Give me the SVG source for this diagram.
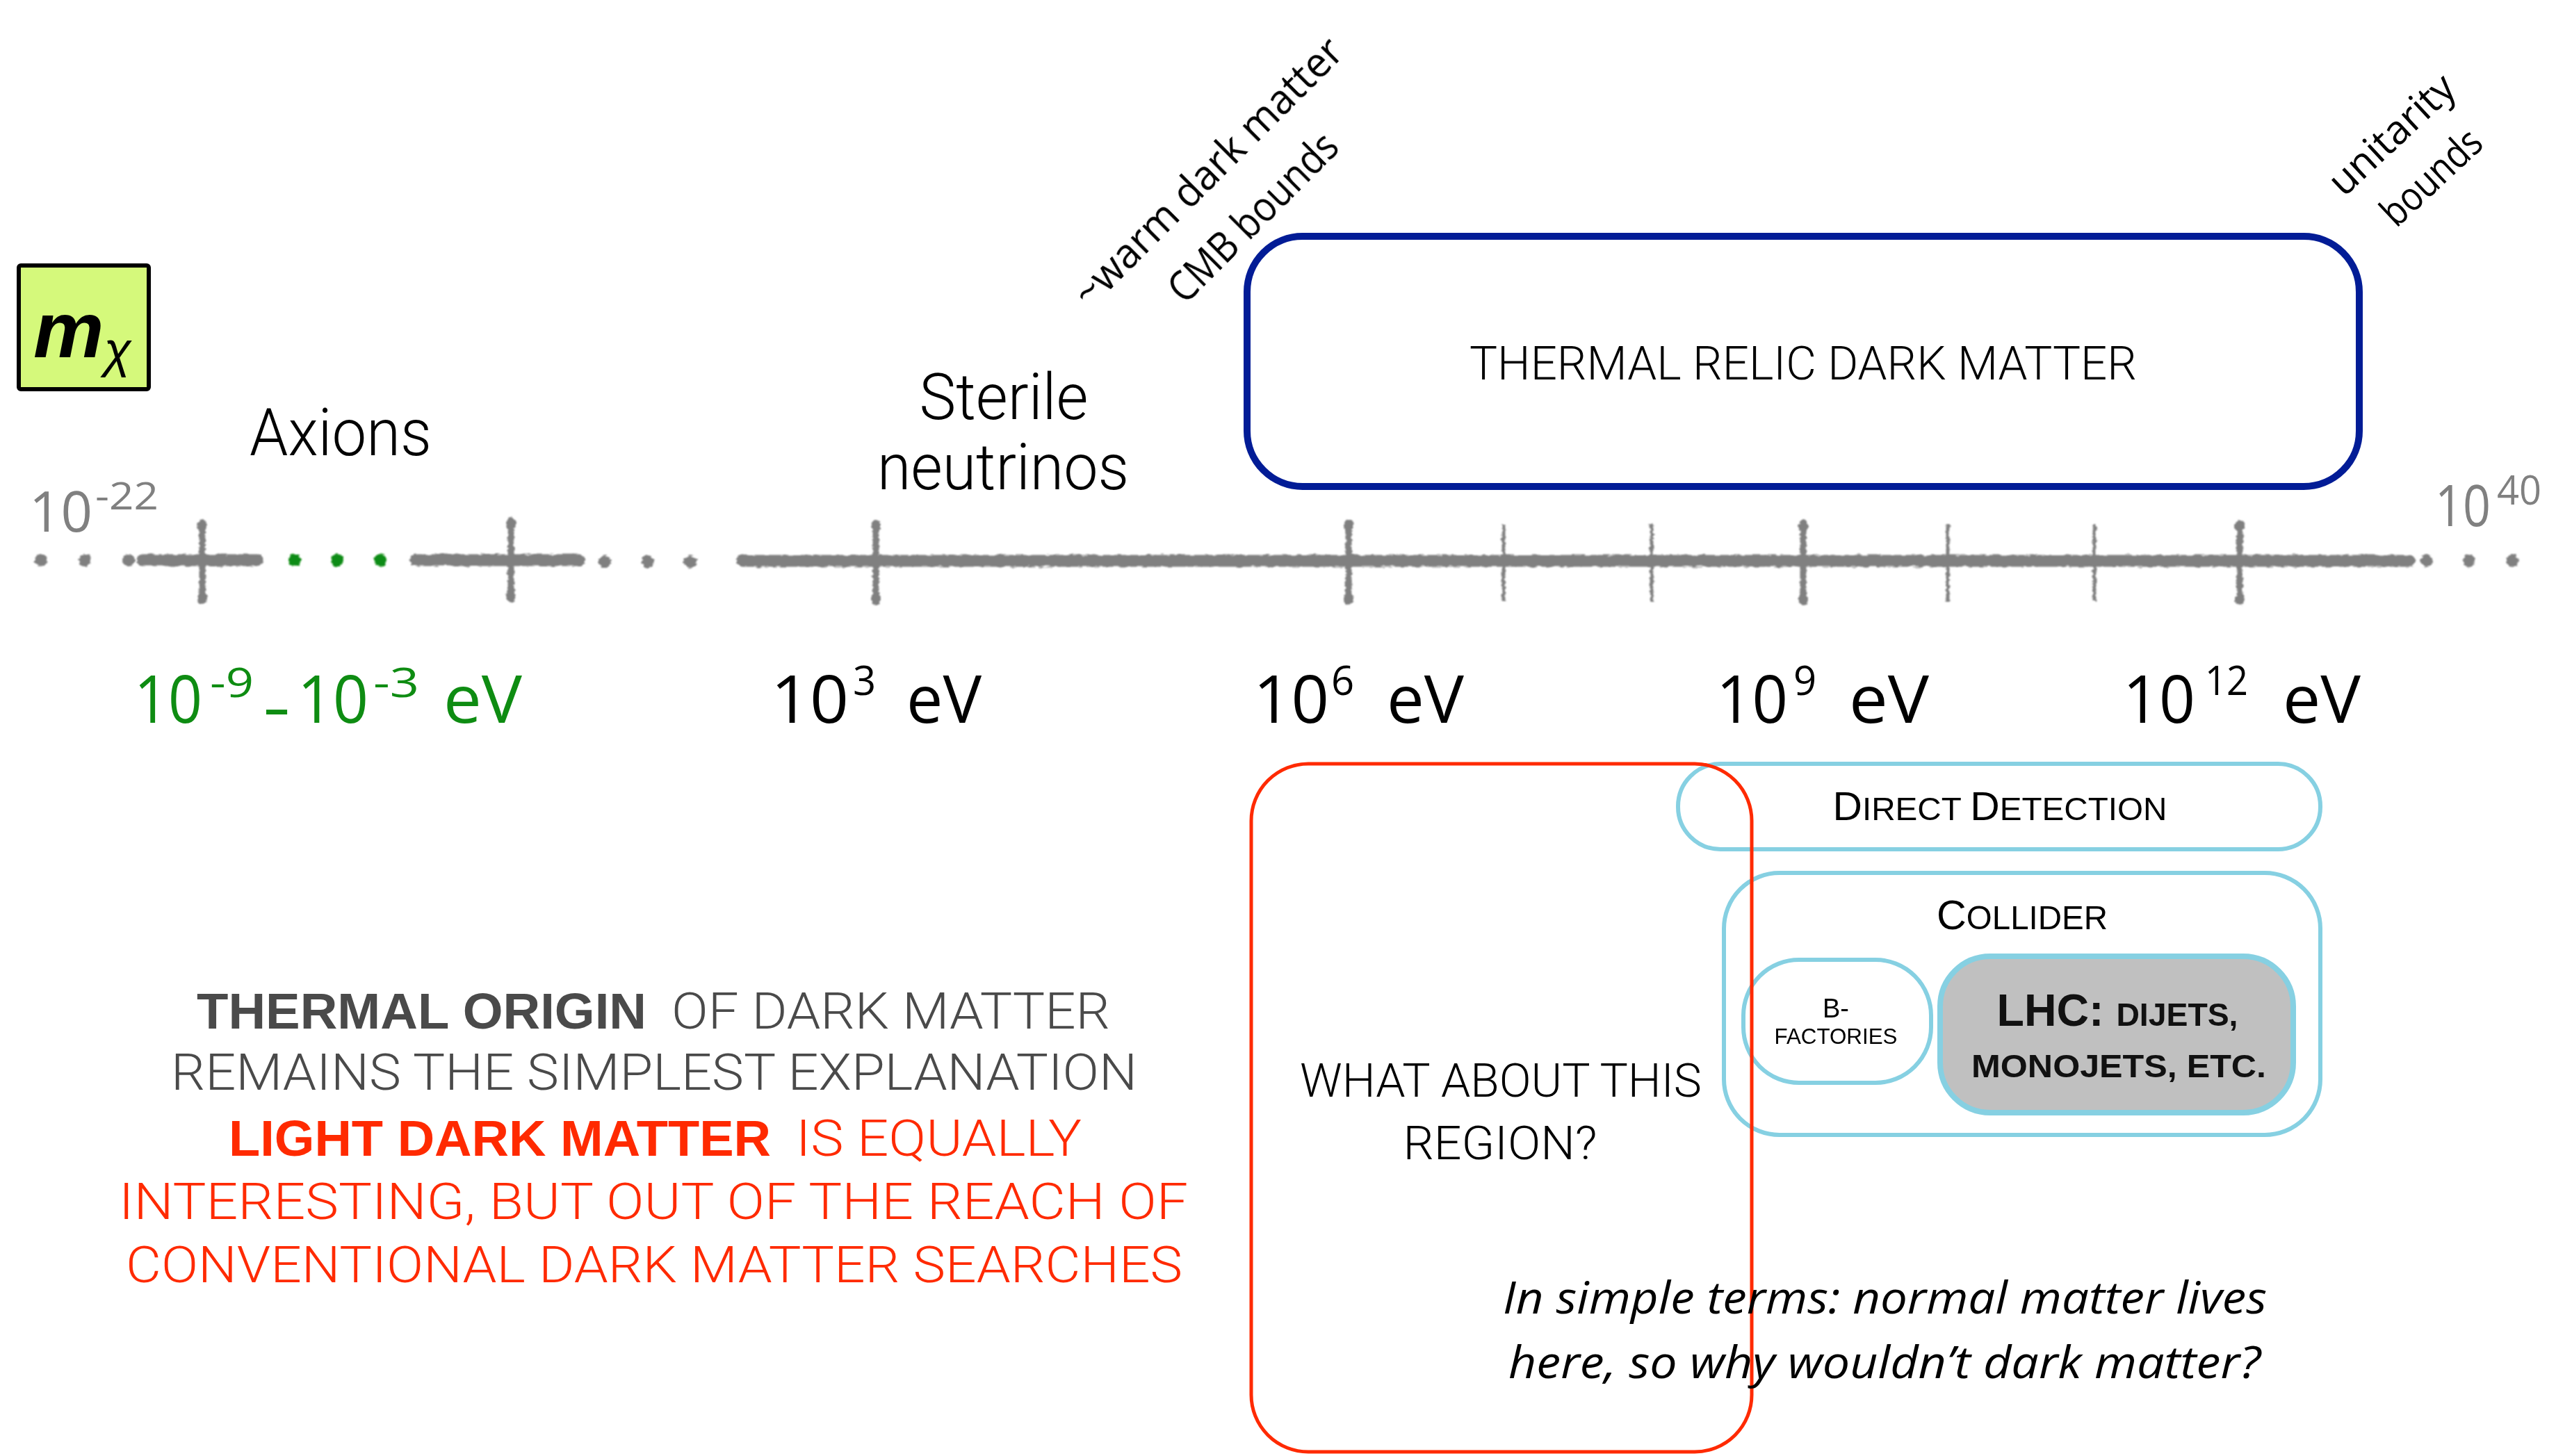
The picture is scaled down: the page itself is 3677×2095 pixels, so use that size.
<svg xmlns="http://www.w3.org/2000/svg" width="3677" height="2095" viewBox="0 0 3677 2095">
  <defs>
    <style>
      .hand { font-family: "Open Sans", "Noto Sans", "DejaVu Sans", sans-serif; font-weight: 400; }
      .note { font-family: "Open Sans", "Noto Sans", "DejaVu Sans", sans-serif; font-style: italic; fill: #000; }
      .lt { font-family: "Roboto", "Liberation Sans", "Noto Sans", sans-serif; font-weight: 300; }
      .rg { font-family: "Liberation Sans", "Roboto", sans-serif; font-weight: 400; }
      .bd { font-family: "Liberation Sans", "Roboto", sans-serif; font-weight: 700; }
      .gray { fill: #808080; }
      .green { fill: #0e8c12; }
      .black { fill: #000; }
      .axline { stroke: #808080; stroke-width: 17; stroke-linecap: round; fill: none; }
      .minor { stroke: #808080; stroke-width: 5; fill: none; }
      .pill { fill: none; stroke: #86d0e2; stroke-width: 6; }
      .mid { text-anchor: middle; }
    </style>
    <filter id="chalk" x="-2%" y="-40%" width="104%" height="180%">
      <feTurbulence type="fractalNoise" baseFrequency="0.09 0.25" numOctaves="2" seed="7" result="noise"/>
      <feDisplacementMap in="SourceGraphic" in2="noise" scale="6" xChannelSelector="R" yChannelSelector="G" result="moved"/>
      <feGaussianBlur in="moved" stdDeviation="1"/>
    </filter>
    <!-- major tick: thick bar with bulbous ends, centred on the axis -->
    <g id="tick-major">
      <line x1="0" y1="-50" x2="0" y2="55" stroke="#808080" stroke-width="9"/>
      <ellipse cx="0" cy="-50" rx="7" ry="9" fill="#808080"/>
      <ellipse cx="0" cy="55" rx="7" ry="9" fill="#808080"/>
    </g>
  </defs>

  <rect width="3677" height="2095" fill="#ffffff"/>

  <!-- mass label -->
  <g id="mass-label">
    <rect x="27" y="382" width="187" height="178" rx="3" fill="#d5f97b" stroke="#000" stroke-width="6"/>
    <text x="48" y="514" class="bd" font-style="italic" font-size="114">m<tspan class="rg" font-weight="400" font-size="72" dy="14">χ</tspan></text>
  </g>

  <!-- mass axis -->
  <g id="axis" filter="url(#chalk)">
    <circle cx="59" cy="806" r="9" class="gray"/>
    <circle cx="122" cy="806" r="9" class="gray"/>
    <circle cx="185" cy="806" r="9" class="gray"/>
    <line x1="205" y1="806" x2="370" y2="806" class="axline"/>
    <use href="#tick-major" x="291" y="806"/>
    <circle cx="424" cy="806" r="9" class="green"/>
    <circle cx="485" cy="806" r="9" class="green"/>
    <circle cx="547" cy="806" r="9" class="green"/>
    <line x1="598" y1="806" x2="833" y2="806" class="axline"/>
    <use href="#tick-major" x="735" y="803"/>
    <circle cx="870" cy="808" r="9" class="gray"/>
    <circle cx="932" cy="808" r="9" class="gray"/>
    <circle cx="993" cy="808" r="9" class="gray"/>
    <line x1="1068" y1="807" x2="3466" y2="807" class="axline"/>
    <use href="#tick-major" x="1260" y="807"/>
    <use href="#tick-major" x="1940" y="807"/>
    <use href="#tick-major" x="2594" y="807"/>
    <use href="#tick-major" x="3222" y="807"/>
    <line x1="2163" y1="754" x2="2163" y2="865" class="minor"/>
    <line x1="2376" y1="754" x2="2376" y2="865" class="minor"/>
    <line x1="2802" y1="754" x2="2802" y2="865" class="minor"/>
    <line x1="3013" y1="754" x2="3013" y2="865" class="minor"/>
    <circle cx="3491" cy="807" r="9" class="gray"/>
    <circle cx="3552" cy="807" r="9" class="gray"/>
    <circle cx="3614" cy="807" r="9" class="gray"/>
  </g>

  <!-- axis end labels -->
  <g id="axis-ends" class="hand gray">
    <text x="42" y="765" font-size="80" textLength="91" lengthAdjust="spacingAndGlyphs">10</text>
    <text x="137" y="733" font-size="54" textLength="91" lengthAdjust="spacingAndGlyphs">-22</text>
    <text x="3503" y="757" font-size="82" textLength="80" lengthAdjust="spacingAndGlyphs">10</text>
    <text x="3592" y="726" font-size="58" textLength="64" lengthAdjust="spacingAndGlyphs">40</text>
  </g>

  <!-- axis scale labels -->
  <g id="scale-labels" class="hand">
    <g class="green">
      <text x="193" y="1040" font-size="96" textLength="98" lengthAdjust="spacingAndGlyphs">10</text>
      <text x="302" y="1003" font-size="58" textLength="63" lengthAdjust="spacingAndGlyphs">-9</text>
      <text x="378" y="1050" font-size="96" textLength="40" lengthAdjust="spacingAndGlyphs">-</text>
      <text x="428" y="1040" font-size="96" textLength="102" lengthAdjust="spacingAndGlyphs">10</text>
      <text x="537" y="1003" font-size="58" textLength="66" lengthAdjust="spacingAndGlyphs">-3</text>
      <text x="638" y="1040" font-size="96" textLength="113" lengthAdjust="spacingAndGlyphs">eV</text>
    </g>
    <g class="black">
      <text x="1109" y="1040" font-size="96" textLength="112" lengthAdjust="spacingAndGlyphs">10</text>
      <text x="1227" y="1000" font-size="58">3</text>
      <text x="1304" y="1040" font-size="96" textLength="108" lengthAdjust="spacingAndGlyphs">eV</text>

      <text x="1803" y="1040" font-size="96" textLength="109" lengthAdjust="spacingAndGlyphs">10</text>
      <text x="1915" y="1000" font-size="58">6</text>
      <text x="1995" y="1040" font-size="96" textLength="111" lengthAdjust="spacingAndGlyphs">eV</text>

      <text x="2469" y="1040" font-size="96" textLength="103" lengthAdjust="spacingAndGlyphs">10</text>
      <text x="2580" y="1000" font-size="58">9</text>
      <text x="2660" y="1040" font-size="96" textLength="115" lengthAdjust="spacingAndGlyphs">eV</text>

      <text x="3054" y="1040" font-size="96" textLength="104" lengthAdjust="spacingAndGlyphs">10</text>
      <text x="3172" y="1000" font-size="58" textLength="62" lengthAdjust="spacingAndGlyphs">12</text>
      <text x="3284" y="1040" font-size="96" textLength="112" lengthAdjust="spacingAndGlyphs">eV</text>
    </g>
  </g>

  <!-- candidate names above the axis -->
  <g id="axions">
    <text x="490" y="655" class="lt mid" font-size="94" textLength="262" lengthAdjust="spacingAndGlyphs">Axions</text>
  </g>
  <g id="sterile-neutrinos" class="lt">
    <text x="1444" y="603" class="mid" font-size="92" textLength="243" lengthAdjust="spacingAndGlyphs">Sterile</text>
    <text x="1443" y="704" class="mid" font-size="92" textLength="362" lengthAdjust="spacingAndGlyphs">neutrinos</text>
  </g>

  <!-- slanted handwritten bounds -->
  <g id="warm-dm-bounds" class="hand black" transform="translate(1752,262) rotate(-45)">
    <text x="0" y="0" class="mid" font-size="60" textLength="520" lengthAdjust="spacingAndGlyphs">~warm dark matter</text>
    <text x="0" y="92" class="mid" font-size="60" textLength="318" lengthAdjust="spacingAndGlyphs">CMB bounds</text>
  </g>
  <g id="unitarity-bounds" class="hand black" transform="translate(3454,208) rotate(-43)">
    <text x="0" y="0" class="mid" font-size="58" textLength="225" lengthAdjust="spacingAndGlyphs">unitarity</text>
    <text x="0" y="84" class="mid" font-size="58" textLength="175" lengthAdjust="spacingAndGlyphs">bounds</text>
  </g>

  <!-- thermal relic window -->
  <g id="thermal-relic">
    <rect x="1794" y="340" width="1600" height="360" rx="80" fill="none" stroke="#021c96" stroke-width="10"/>
    <text x="2594" y="546" class="lt mid" font-size="67" textLength="960" lengthAdjust="spacingAndGlyphs">THERMAL RELIC DARK MATTER</text>
  </g>

  <!-- search strategies -->
  <g id="direct-detection">
    <rect x="2414" y="1099" width="924" height="123" rx="61" class="pill"/>
    <text x="2877" y="1180" class="rg mid" font-size="58" textLength="481" lengthAdjust="spacingAndGlyphs">D<tspan font-size="47">IRECT </tspan>D<tspan font-size="47">ETECTION</tspan></text>
  </g>

  <g id="collider">
    <rect x="2480" y="1256" width="858" height="377" rx="80" class="pill"/>
    <text x="2909" y="1337" class="rg mid" font-size="60" textLength="246" lengthAdjust="spacingAndGlyphs">C<tspan font-size="48">OLLIDER</tspan></text>
  </g>

  <g id="b-factories">
    <rect x="2508" y="1381" width="270" height="177" rx="80" class="pill" stroke-width="5"/>
    <text x="2641" y="1464" class="rg mid" font-size="38">B-</text>
    <text x="2641" y="1502" class="rg mid" font-size="32" textLength="177" lengthAdjust="spacingAndGlyphs">FACTORIES</text>
  </g>

  <g id="lhc">
    <rect x="2791" y="1376" width="508" height="225" rx="72" fill="#c0c0c0" stroke="#86d0e2" stroke-width="8"/>
    <text x="3046" y="1476" class="bd mid" font-size="64" textLength="347" lengthAdjust="spacingAndGlyphs" fill="#111">LHC: <tspan font-size="46">DIJETS,</tspan></text>
    <text x="3048" y="1550" class="bd mid" font-size="46" textLength="424" lengthAdjust="spacingAndGlyphs" fill="#111">MONOJETS, ETC.</text>
  </g>

  <!-- unexplored light region -->
  <g id="light-region">
    <rect x="1800" y="1099" width="720" height="990" rx="82" fill="none" stroke="#ff2a00" stroke-width="5"/>
    <text x="2159" y="1578" class="lt mid" font-size="67" textLength="578" lengthAdjust="spacingAndGlyphs">WHAT ABOUT THIS</text>
    <text x="2158" y="1668" class="lt mid" font-size="67" textLength="279" lengthAdjust="spacingAndGlyphs">REGION?</text>
  </g>

  <!-- summary statement -->
  <g id="summary" font-size="72">
    <text x="283" y="1480" class="bd" fill="#4a4a4a" textLength="647" lengthAdjust="spacingAndGlyphs">THERMAL ORIGIN</text>
    <text x="966" y="1480" class="lt" fill="#4a4a4a" textLength="631" lengthAdjust="spacingAndGlyphs">OF DARK MATTER</text>
    <text x="941" y="1568" class="lt mid" fill="#4a4a4a" textLength="1390" lengthAdjust="spacingAndGlyphs">REMAINS THE SIMPLEST EXPLANATION</text>
    <text x="329" y="1663" class="bd" fill="#ff2a00" textLength="780" lengthAdjust="spacingAndGlyphs">LIGHT DARK MATTER</text>
    <text x="1145" y="1663" class="lt" fill="#ff2a00" textLength="411" lengthAdjust="spacingAndGlyphs">IS EQUALLY</text>
    <text x="940" y="1754" class="lt mid" fill="#ff2a00" textLength="1538" lengthAdjust="spacingAndGlyphs">INTERESTING, BUT OUT OF THE REACH OF</text>
    <text x="941" y="1845" class="lt mid" fill="#ff2a00" textLength="1520" lengthAdjust="spacingAndGlyphs">CONVENTIONAL DARK MATTER SEARCHES</text>
  </g>

  <!-- handwritten remark -->
  <g id="remark">
    <text x="2162" y="1890" class="note" font-size="64" textLength="1099" lengthAdjust="spacingAndGlyphs">In simple terms: normal matter lives</text>
    <text x="2170" y="1983" class="note" font-size="64" textLength="1082" lengthAdjust="spacingAndGlyphs">here, so why wouldn’t dark matter?</text>
  </g>
</svg>
